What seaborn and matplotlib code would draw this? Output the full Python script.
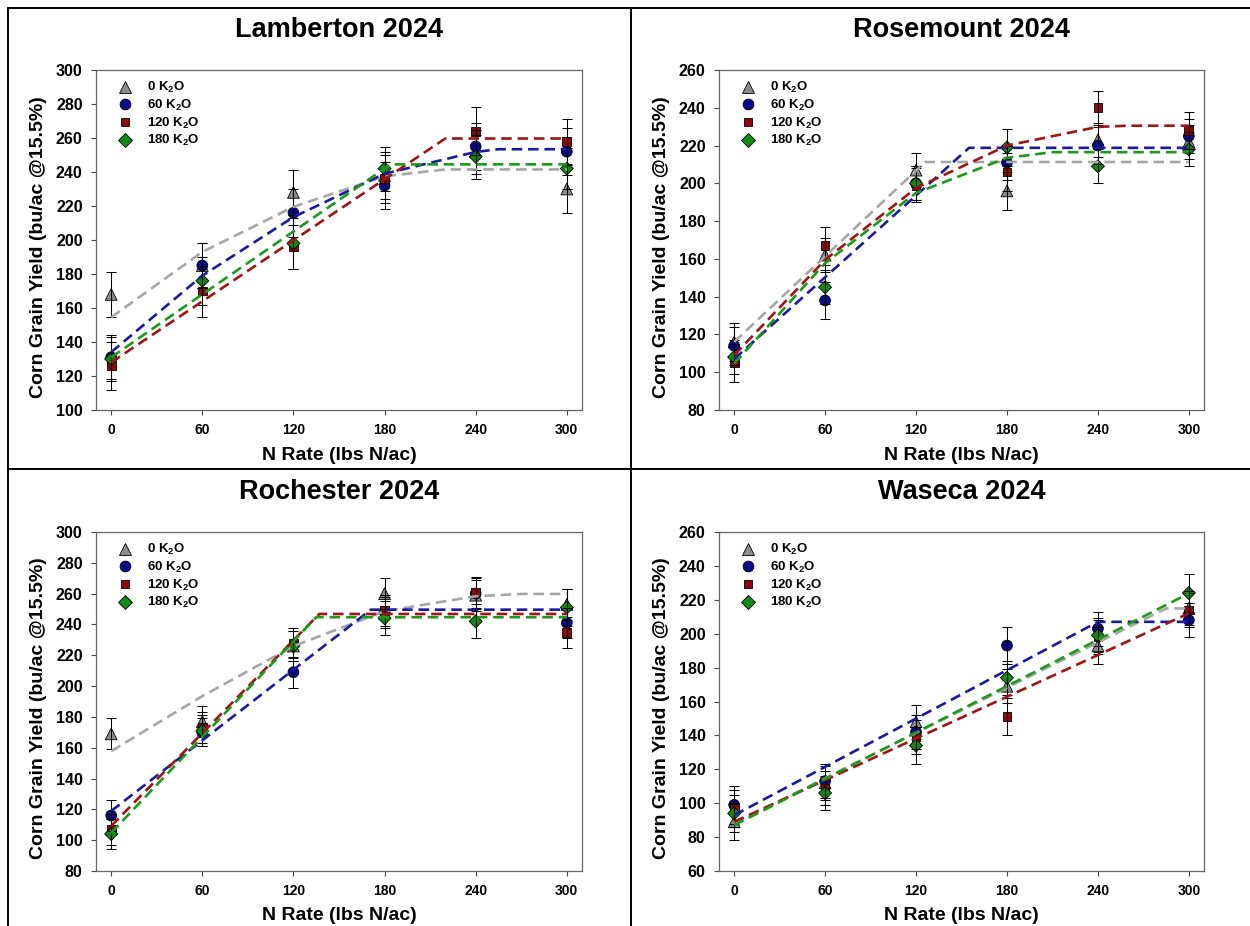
import numpy as np
import pandas as pd
import matplotlib.pyplot as plt
import seaborn as sns
from matplotlib.lines import Line2D

# ---- data ----
N_RATES = [0, 60, 120, 180, 240, 300]
K_LABELS = ["0 K$_2$O", "60 K$_2$O", "120 K$_2$O", "180 K$_2$O"]
SITES = ["Lamberton 2024", "Rosemount 2024", "Rochester 2024", "Waseca 2024"]
Y_LIMITS = [(100, 300), (80, 260), (80, 300), (60, 260)]

# mean yield (rows: 0, 60, 120, 180 K2O)
lam_yield = [[168, 185, 228, 238, 252, 230],
             [131, 185, 216, 232, 255, 252],
             [126, 170, 196, 236, 264, 258],
             [130, 176, 198, 242, 249, 242]]
ros_yield = [[116, 162, 207, 196, 223, 222],
             [114, 138, 200, 211, 220, 225],
             [105, 167, 199, 206, 240, 228],
             [108, 145, 200, 219, 209, 218]]
roc_yield = [[169, 177, 226, 260, 259, 253],
             [116, 170, 209, 248, 260, 241],
             [107, 173, 228, 249, 261, 235],
             [104, 171, 226, 244, 242, 251]]
was_yield = [[89, 112, 148, 169, 193, 215],
             [99, 113, 142, 193, 203, 208],
             [97, 109, 139, 151, 198, 214],
             [94, 106, 134, 174, 199, 224]]

# standard errors
lam_se = [[13, 13, 13, 14, 13, 14],
          [13, 13, 14, 14, 14, 14],
          [14, 15, 13, 14, 14, 13],
          [13, 14, 15, 13, 13, 12]]
ros_se = [[10, 9, 9, 10, 9, 9],
          [10, 10, 9, 9, 10, 9],
          [10, 10, 9, 10, 9, 10],
          [9, 9, 9, 10, 9, 9]]
roc_se = [[10, 10, 10, 10, 10, 10],
          [10, 9, 10, 10, 10, 10],
          [10, 10, 10, 10, 10, 10],
          [10, 10, 10, 11, 11, 12]]
was_se = [[11, 10, 10, 10, 11, 10],
          [11, 10, 10, 11, 10, 10],
          [11, 10, 10, 11, 10, 10],
          [11, 10, 11, 10, 10, 11]]

# fitted response curves (vertices)
lam_fit_x = [[0, 60, 120, 180, 220, 300],
             [0, 60, 120, 180, 240, 255, 300],
             [0, 220, 300],
             [0, 184, 300]]
lam_fit_y = [[154.5, 193, 219.5, 237.5, 241.5, 241.5],
             [134, 179, 213.5, 239, 251.8, 253.4, 253.4],
             [128, 259.7, 259.7],
             [131, 244.5, 244.5]]
ros_fit_x = [[0, 126, 300],
             [0, 155, 300],
             [0, 60, 120, 180, 240, 260, 300],
             [0, 60, 120, 180, 210, 300]]
ros_fit_y = [[116, 211.3, 211.3],
             [107, 218.8, 218.8],
             [109, 159.5, 197.5, 220, 229.9, 230.5, 230.5],
             [104.6, 157.7, 194.9, 213.5, 216.5, 216.5]]
roc_fit_x = [[0, 60, 120, 180, 240, 270, 300],
             [0, 171, 300],
             [0, 137, 300],
             [0, 135, 300]]
roc_fit_y = [[157.8, 193.5, 225.9, 248.6, 258.3, 259.8, 259.8],
             [118.9, 249.6, 249.6],
             [109.2, 246.8, 246.8],
             [104.8, 244.7, 244.7]]
was_fit_x = [[0, 285, 300],
             [0, 240, 300],
             [0, 300],
             [0, 300]]
was_fit_y = [[88, 214.9, 214.9],
             [92.9, 207, 207],
             [89, 212],
             [87, 223.8]]

site_yield = [lam_yield, ros_yield, roc_yield, was_yield]
site_se = [lam_se, ros_se, roc_se, was_se]
site_fit_x = [lam_fit_x, ros_fit_x, roc_fit_x, was_fit_x]
site_fit_y = [lam_fit_y, ros_fit_y, roc_fit_y, was_fit_y]

rows, fit_rows = [], []
for s, site in enumerate(SITES):
    for k, lab in enumerate(K_LABELS):
        for n, y, e in zip(N_RATES, site_yield[s][k], site_se[s][k]):
            rows.append((site, n, lab, y, e))
        for x, y in zip(site_fit_x[s][k], site_fit_y[s][k]):
            fit_rows.append((site, lab, x, y))
pts = pd.DataFrame(rows, columns=["site", "N", "K2O", "yield", "se"])
fits = pd.DataFrame(fit_rows, columns=["site", "K2O", "x", "y"])

# ---- style ----
sns.set_theme(style="white")
plt.rcParams["font.family"] = ["Liberation Sans", "DejaVu Sans"]
plt.rcParams["font.weight"] = "bold"
plt.rcParams["axes.labelweight"] = "bold"
plt.rcParams["text.color"] = "black"
plt.rcParams["axes.labelcolor"] = "black"
plt.rcParams["xtick.color"] = "black"
plt.rcParams["ytick.color"] = "black"
plt.rcParams["mathtext.fontset"] = "custom"
plt.rcParams["mathtext.rm"] = "Liberation Sans:bold"
plt.rcParams["mathtext.it"] = "Liberation Sans:bold"
plt.rcParams["mathtext.bf"] = "Liberation Sans:bold"
plt.rcParams["mathtext.default"] = "rm"

marker_pal = dict(zip(K_LABELS, ["#8c8c8c", "#0a0a8a", "#8e0a0a", "#108a10"]))
line_pal = dict(zip(K_LABELS, ["#a6a6a6", "#1a1aa0", "#a01414", "#1c9a1c"]))
marker_map = dict(zip(K_LABELS, ["^", "o", "s", "D"]))
size_map = dict(zip(K_LABELS, [72, 60, 40, 44]))
dash_map = {lab: (4, 2.2) for lab in K_LABELS}

W, H = 1250, 926
fig = plt.figure(figsize=(W / 100, H / 100), dpi=100)

# axes boxes in pixels: left, top, right, bottom
boxes = [(96, 70, 582, 410), (719, 70, 1204, 410),
         (96, 532, 582, 871), (719, 532, 1204, 871)]

for s, site in enumerate(SITES):
    l, t, r, b = boxes[s]
    ax = fig.add_axes([l / W, 1 - b / H, (r - l) / W, (b - t) / H])
    sub = pts[pts.site == site]
    fsub = fits[fits.site == site]

    sns.scatterplot(data=sub, x="N", y="yield", hue="K2O", style="K2O", size="K2O",
                    palette=marker_pal, markers=marker_map, sizes=size_map,
                    edgecolor="black", linewidth=0.6, ax=ax, zorder=2)
    ax.errorbar(sub["N"], sub["yield"], yerr=sub["se"], fmt="none", ecolor="black",
                elinewidth=0.75, capsize=3.6, capthick=0.75, zorder=3)
    sns.lineplot(data=fsub, x="x", y="y", hue="K2O", style="K2O", palette=line_pal,
                 dashes=dash_map, sort=False, estimator=None, legend=False,
                 linewidth=1.9, ax=ax, zorder=4)

    ax.set_xlim(-10, 310)
    ax.set_ylim(*Y_LIMITS[s])
    ax.set_xticks(N_RATES)
    ax.set_yticks(np.arange(Y_LIMITS[s][0], Y_LIMITS[s][1] + 1, 20))
    ax.tick_params(direction="out", length=3.6, width=0.8, color="#444444",
                   left=True, bottom=True)
    ax.tick_params(axis="y", pad=6, labelsize=11.5)
    ax.tick_params(axis="x", pad=5.5, labelsize=10)
    for sp in ax.spines.values():
        sp.set_color("#666666")
        sp.set_linewidth(0.9)

    ax.set_title(site, fontsize=19.5, fontweight="bold", pad=24)
    ax.set_xlabel("N Rate (lbs N/ac)", fontsize=14)
    ax.set_ylabel("Corn Grain Yield (bu/ac @15.5%)", fontsize=14)
    ax.xaxis.set_label_coords(0.5, -45 / (b - t))
    ax.xaxis.label.set_va("center")
    ax.yaxis.set_label_coords(-57 / (r - l), 0.5 - 7 / (b - t))
    ax.yaxis.label.set_va("center")

    sns.move_legend(ax, "upper left", bbox_to_anchor=(0.018, 1.005), frameon=False,
                    title=None, fontsize=9.5, handlelength=1.2, handletextpad=1.1,
                    labelspacing=0.2, borderpad=0.4)
    leg = ax.get_legend()
    for h, lab in zip(leg.legend_handles, K_LABELS):
        if hasattr(h, "set_markersize"):
            h.set_markersize(np.sqrt(size_map[lab]))
        else:
            h.set_sizes([size_map[lab]])

# table-like frame lines
for (x0, y0, x1, y1) in [(8, 8, 1250, 8), (8, 8, 8, 926), (631, 8, 631, 926), (8, 469, 1250, 469)]:
    fig.add_artist(Line2D([x0 / W, x1 / W], [1 - y0 / H, 1 - y1 / H],
                          transform=fig.transFigure, color="black", linewidth=1.4))

fig.savefig("out.png", dpi=100)
